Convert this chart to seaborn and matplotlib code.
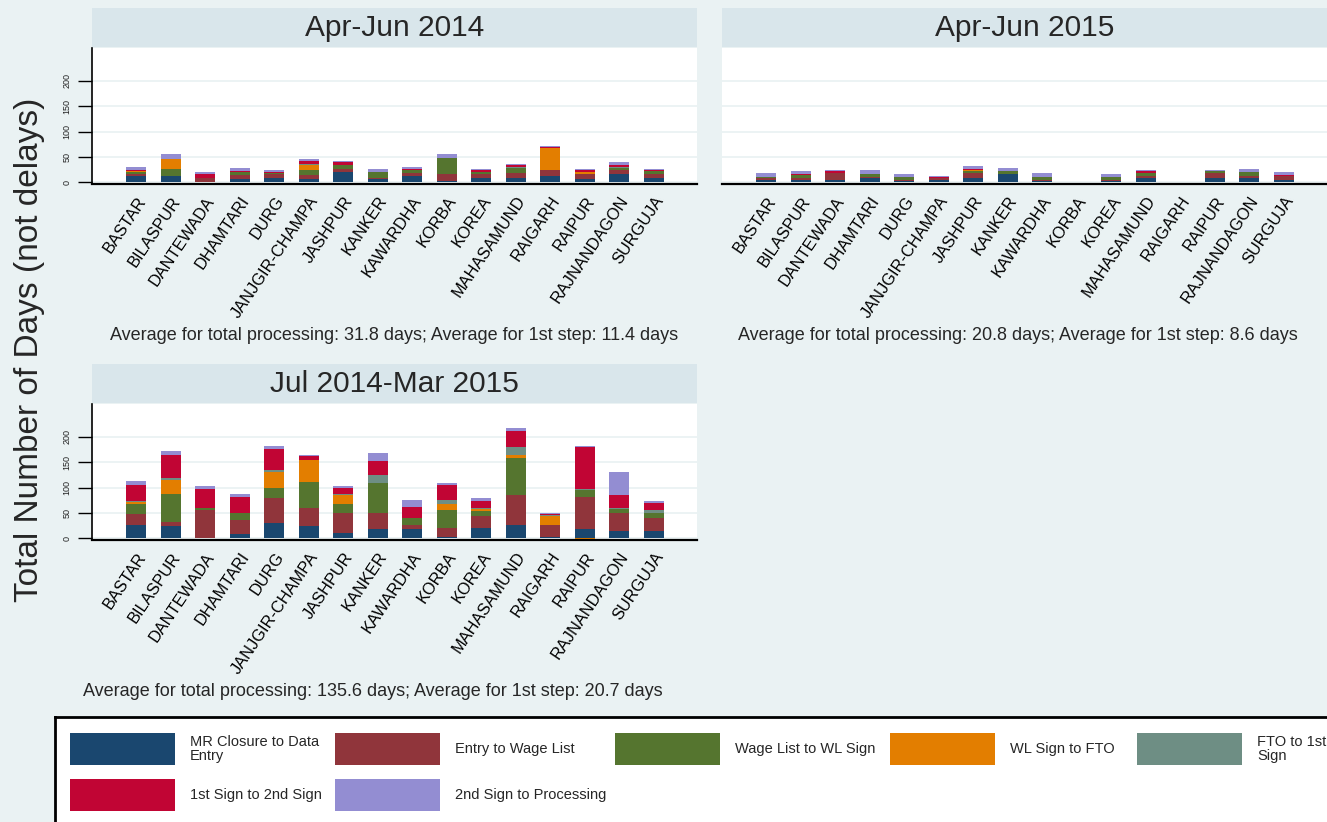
import numpy as np
import pandas as pd
import matplotlib
matplotlib.use("Agg")
import matplotlib.pyplot as plt
from matplotlib.patches import Rectangle
import seaborn as sns

districts = ["BASTAR", "BILASPUR", "DANTEWADA", "DHAMTARI", "DURG",
             "JANJGIR-CHAMPA", "JASHPUR", "KANKER", "KAWARDHA", "KORBA",
             "KOREA", "MAHASAMUND", "RAIGARH", "RAIPUR", "RAJNANDAGON", "SURGUJA"]

stages = ["MR Closure to Data\nEntry", "Entry to Wage List", "Wage List to WL Sign",
          "WL Sign to FTO", "FTO to 1st\nSign", "1st Sign to 2nd Sign",
          "2nd Sign to Processing"]
stage_colors = ["#1a476f", "#90353b", "#55752f", "#e37e00", "#6e8e84", "#c10534", "#938dd2"]

# rows follow `stages`, columns follow `districts`
apr_jun_2014 = [
    [12, 12, 1, 6, 8, 6, 21, 6, 12, 3, 8, 8, 12, 6, 16, 8],
    [5, 1, 7, 9, 8, 9, 6, 2, 6, 13, 8, 10, 12, 11, 8, 8],
    [4, 14, 0, 6, 2, 9, 7, 13, 7, 33, 4, 11, 0, 0, 5, 7],
    [2, 19, 0, 0, 0, 10, 0, 0, 0, 0, 0, 0, 44, 4, 0, 0],
    [0, 0, 0, 0, 0, 2, 1, 0, 0, 0, 0, 1, 0, 0, 1, 0],
    [2, 0, 8, 1, 3, 7, 5, 0, 1, 0, 4, 4, 1, 3, 4, 1],
    [5, 10, 5, 6, 3, 3, 3, 6, 4, 7, 3, 3, 2, 3, 6, 3],
]
apr_jun_2015 = [
    [5, 5, 5, 9, 3, 5, 9, 16, 3, 0, 3, 9, 0, 9, 9, 5],
    [3, 4, 13, 2, 2, 3, 9, 1, 1, 0, 1, 3, 0, 9, 3, 7],
    [2, 5, 0, 5, 5, 0, 5, 6, 6, 0, 6, 6, 0, 4, 8, 1],
    [0, 0, 0, 0, 0, 0, 2, 0, 0, 0, 0, 0, 0, 0, 0, 0],
    [0, 0, 0, 0, 0, 0, 0, 0, 0, 0, 0, 0, 0, 0, 1, 0],
    [0, 3, 5, 1, 0, 2, 1, 0, 0, 0, 0, 5, 0, 1, 0, 1],
    [8, 5, 2, 8, 6, 3, 6, 5, 8, 0, 6, 2, 0, 2, 6, 7],
]
jul14_mar15 = [
    [27, 24, 0, 8, 30, 24, 11, 18, 18, 3, 21, 27, 3, 18, 15, 15],
    [21, 9, 57, 28, 49, 36, 40, 33, 9, 18, 24, 59, 23, 64, 36, 25],
    [19, 55, 4, 15, 21, 52, 16, 58, 13, 36, 10, 72, 0, 14, 8, 11],
    [4, 28, 0, 0, 31, 43, 19, 0, 0, 10, 4, 6, 19, -3, 0, 0],
    [2, 3, 0, 0, 4, 0, 2, 16, 0, 9, 2, 16, 1, 2, 2, 6],
    [33, 46, 37, 31, 42, 7, 12, 27, 23, 30, 12, 31, 3, 82, 25, 12],
    [7, 7, 5, 6, 6, 2, 3, 16, 13, 4, 6, 6, 2, 3, 45, 4],
]

titles = ["Apr-Jun 2014", "Apr-Jun 2015", "Jul 2014-Mar 2015"]
notes = ["Average for total processing: 31.8 days; Average for 1st step: 11.4 days",
         "Average for total processing: 20.8 days; Average for 1st step: 8.6 days",
         "Average for total processing: 135.6 days; Average for 1st step: 20.7 days"]

BG = "#eaf2f3"
BAND = "#d9e6eb"
W, H = 1327, 822

sns.set_theme(style="white")
plt.rcParams["font.family"] = ["Liberation Sans", "DejaVu Sans"]

fig = plt.figure(figsize=(W / 100, H / 100), dpi=100, facecolor=BG)


def px_box(x0, y0, x1, y1):
    return [x0 / W, 1 - y1 / H, (x1 - x0) / W, (y1 - y0) / H]


def draw_panel(box, band, title, note, note_xy, values, show_y):
    ax = fig.add_axes(px_box(*box))
    ax.set_facecolor("white")
    df = pd.DataFrame(np.array(values).T, columns=stages)
    df["district"] = districts
    pos = np.zeros(len(districts))
    neg = np.zeros(len(districts))
    for stage, col in zip(stages, stage_colors):
        v = df[stage].to_numpy(dtype=float)
        bottom = np.where(v >= 0, pos, neg)
        sns.barplot(data=df, x="district", y=stage, order=districts, color=col,
                    bottom=bottom, width=0.58, errorbar=None, saturation=1,
                    linewidth=0, ax=ax)
        pos = pos + np.clip(v, 0, None)
        neg = neg + np.clip(v, None, 0)
    ax.set_ylim(-3, 265)
    ax.set_xlim(-1.28, 16.25)
    ax.set_yticks([0, 50, 100, 150, 200])
    ax.grid(axis="y", color=BG, linewidth=1.3)
    ax.set_axisbelow(True)
    ax.set_xlabel("")
    ax.set_ylabel("")
    for s in ["top", "right"]:
        ax.spines[s].set_visible(False)
    ax.spines["bottom"].set_color("black")
    ax.spines["bottom"].set_linewidth(1.6)
    if show_y:
        ax.spines["left"].set_color("black")
        ax.spines["left"].set_linewidth(1.2)
        ax.tick_params(axis="y", left=True, length=10, width=1, color="black",
                       labelsize=6.5, labelrotation=90, pad=5, labelcolor="#222222")
        for lab in ax.get_yticklabels():
            lab.set_va("center")
    else:
        ax.spines["left"].set_visible(False)
        ax.tick_params(axis="y", left=False, labelleft=False)
    ax.set_xticks(range(len(districts)))
    ax.set_xticklabels(districts, rotation=56, ha="right", rotation_mode="anchor",
                       fontsize=11.8)
    ax.tick_params(axis="x", length=0, pad=7, colors="black")

    bx0, by0, bx1, by1 = band
    fig.patches.append(Rectangle((bx0 / W, 1 - by1 / H), (bx1 - bx0) / W, (by1 - by0) / H,
                                 transform=fig.transFigure, facecolor=BAND,
                                 edgecolor="none", zorder=0))
    fig.text((bx0 + bx1) / 2 / W, 1 - (by0 + by1) / 2 / H, title, ha="center",
             va="center", fontsize=21.5)
    fig.text(note_xy[0] / W, 1 - note_xy[1] / H, note, ha="center", va="center",
             fontsize=13)
    return ax


draw_panel((92, 48, 697, 184), (92, 8, 697, 47), titles[0], notes[0], (394, 335),
           apr_jun_2014, True)
draw_panel((722, 48, 1327, 184), (722, 8, 1327, 47), titles[1], notes[1], (1018, 335),
           apr_jun_2015, False)
draw_panel((92, 404, 697, 540), (92, 364, 697, 403), titles[2], notes[2], (373, 691),
           jul14_mar15, True)

fig.text(30 / W, 1 - 350 / H, "Total Number of Days (not delays)", rotation=90,
         ha="center", va="center", fontsize=24)

# legend box
lax = fig.add_axes(px_box(55, 717, 1340, 830))
lax.set_xlim(55, 1340)
lax.set_ylim(830, 717)
lax.set_facecolor("white")
lax.set_xticks([])
lax.set_yticks([])
for s in lax.spines.values():
    s.set_color("black")
    s.set_linewidth(2)
col_x = [70, 335, 615, 890, 1137]
row_y = [733, 779]
for i, (stage, col) in enumerate(zip(stages, stage_colors)):
    r, c = divmod(i, 5)
    x, y = col_x[c], row_y[r]
    lax.add_patch(Rectangle((x, y), 105, 32, facecolor=col, edgecolor="none"))
    lax.text(x + 120, y + 16, stage, ha="left", va="center", fontsize=10.5,
             linespacing=1.0)

fig.savefig("out.png", dpi=100, facecolor=BG)
